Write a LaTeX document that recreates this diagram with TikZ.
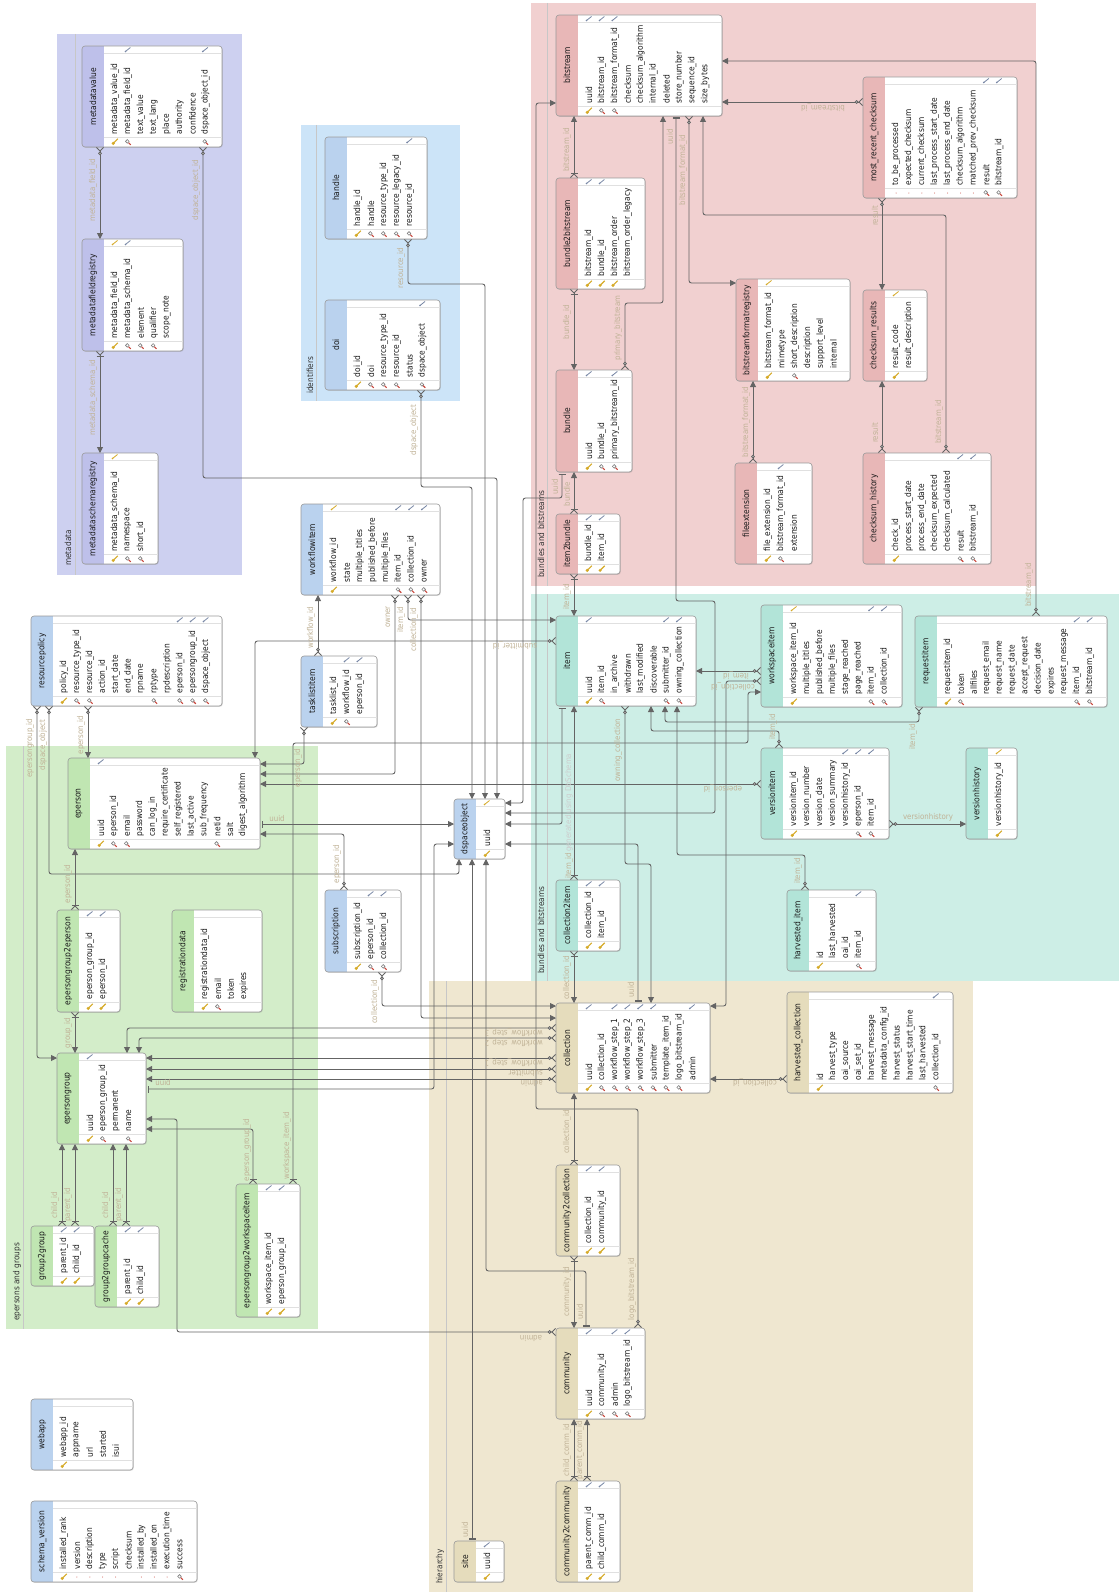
\documentclass[tikz,border=0pt]{standalone}
\usepackage{fontspec}
\setmainfont{DejaVu Sans}[FakeStretch=0.88]
\usetikzlibrary{arrows.meta,shadows}
\definecolor{mdbg}{RGB}{205,208,240}
\definecolor{idbg}{RGB}{204,228,248}
\definecolor{rdbg}{RGB}{241,208,208}
\definecolor{tlbg}{RGB}{205,238,230}
\definecolor{grbg}{RGB}{211,237,201}
\definecolor{tnbg}{RGB}{239,231,208}
\definecolor{mdh}{RGB}{190,192,234}
\definecolor{blh}{RGB}{186,210,238}
\definecolor{rdh}{RGB}{232,183,183}
\definecolor{tlh}{RGB}{178,228,216}
\definecolor{grh}{RGB}{192,230,178}
\definecolor{tnh}{RGB}{229,220,188}
\definecolor{lnc}{RGB}{100,100,100}
\definecolor{lblc}{RGB}{192,178,150}
\definecolor{keyc}{RGB}{214,170,40}
\definecolor{magc}{RGB}{200,70,60}
\definecolor{fkc}{RGB}{120,135,165}
\tikzset{
 tblbox/.style={rectangle, rounded corners=3pt, fill=white, inner sep=0pt, outer sep=0pt, drop shadow={shadow xshift=0.8pt, shadow yshift=-0.8pt, opacity=0.25, fill=black!60}},
 tbledge/.style={draw=black!40, line width=0.6pt},
 tblsep/.style={draw=black!12, line width=0.5pt},
 ttl/.style={font=\fontsize{8.6}{9}\selectfont, text=black!90, inner sep=0pt},
 coltext/.style={font=\fontsize{8.5}{9}\selectfont, text=black!90, inner sep=0pt},
 conn/.style={draw=lnc, line width=0.9pt, rounded corners=2.5pt},
 fko/.style={conn, {Straight Barb[reversed,length=3.5pt,width=7pt] Circle[length=3.6pt,fill=white]}-{Triangle[length=6pt,width=6pt]}},
 fkm/.style={conn, {Straight Barb[reversed,length=3.5pt,width=7pt] Bar[width=7pt]}-{Triangle[length=6pt,width=6pt]}},
 one/.style={conn, {Bar[width=7pt,sep=1.5pt]Bar[width=7pt]}-{Triangle[length=6pt,width=6pt]}},
 lbl/.style={font=\fontsize{8}{9}\selectfont, text=lblc, inner sep=0pt},
 lv/.style={lbl, rotate=90},
 lf/.style={lbl, rotate=180},
 lh/.style={lbl},
 wm/.style={font=\fontsize{8}{9}\selectfont, text=black!20, inner sep=0pt, rotate=90},
 glbl/.style={font=\fontsize{8.4}{9}\selectfont, text=black!80, inner sep=0pt, rotate=90, anchor=west},
 gline/.style={draw=black!22, line width=0.5pt},
}
\newcommand\ico[3]{%
  \if#1k\fill[keyc] (#2-1.8,#3+1.4) circle (1.7); \draw[keyc,line width=1.1pt] (#2-1,#3+0.6) -- (#2+2.8,#3-3.2);\fi
  \if#1q\draw[magc,line width=1.1pt] (#2+0.6,#3+0.6) -- (#2+2.8,#3+2.8); \draw[black!50,line width=0.6pt,fill=white] (#2-0.6,#3-0.6) circle (1.8);\fi
  \if#1d\fill[magc] (#2,#3) circle (0.5);\fi
  \if#1b\draw[fkc,line width=0.8pt] (#2-2.5,#3+2) -- (#2+2.5,#3-2); \fill[fkc] (#2-2.5,#3+2) circle (0.9);\fi
  \if#1g\draw[keyc,line width=0.8pt] (#2-2.5,#3+2) -- (#2+2.5,#3-2); \fill[keyc] (#2-2.5,#3+2) circle (0.9);\fi
}
\newcommand\dbtable[8]{%
  \node[tblbox, minimum width=#4pt, minimum height=#5pt, anchor=north west] (#1) at (#2,#3) {};
  \begin{scope}
    \clip[rounded corners=3pt] (#2,#3) rectangle ++(#4,#5);
    \fill[#6] (#2,#3) rectangle ++(22,#5);
  \end{scope}
  \draw[tbledge, rounded corners=3pt] (#2,#3) rectangle ++(#4,#5);
  \draw[tblsep] (#2+22,#3+7) -- (#2+#4,#3+7);
  \draw[tblsep] (#2+22,#3+#5-10) -- (#2+#4,#3+#5-10);
  \node[ttl, rotate=90] (#1t) at (#2+11,#3+#5/2) {#7};
  \foreach \colname/\icb/\ict [count=\i from 0] in {#8} {
    \pgfmathsetmacro\cx{#2+33+12.9*\i}
    \node[coltext, rotate=90, anchor=west] (#1c\i) at (\cx,#3+#5-12.5) {\colname};
    \ico{\icb}{\cx}{#3+#5-5}
    \ico{\ict}{\cx}{#3+3.5}
  }
}
\catcode`\_=12
\begin{document}
\begin{tikzpicture}[x=1pt,y=-1pt]
\useasboundingbox (0,0) rectangle (1119,1592);
\fill[white] (0,0) rectangle (1119,1592);
% groups
\fill[mdbg] (57,34) rectangle (242,575);
\fill[idbg] (301,125) rectangle (460,401);
\fill[rdbg] (531,3) rectangle (1036,586);
\fill[tlbg] (531,594) rectangle (1119,981);
\fill[grbg] (6,746) rectangle (318,1329);
\fill[tnbg] (429,981) rectangle (973,1592);
\draw[gline] (75,34) -- (75,575);
\draw[gline] (316,125) -- (316,401);
\draw[gline] (547,3) -- (547,586);
\draw[gline] (547,594) -- (547,981);
\draw[gline] (23,746) -- (23,1329);
\draw[gline] (446,981) -- (446,1592);
\node[glbl] (gmd) at (68,566) {metadata};
\node[glbl] (gid) at (310,394) {identifiers};
\node[glbl] (gbs) at (541,578) {bundles and bitstreams};
\node[glbl] (git) at (541,974) {bundles and bitstreams};
\node[glbl] (gep) at (17,1321) {epersons and groups};
\node[glbl] (ghi) at (440,1584) {hierarchy};
% tables
\dbtable{mdv}{82}{46}{140}{101}{mdh}{metadatavalue}{metadata_value_id/k/n, metadata_field_id/q/b, text_value/n/n, text_lang/n/n, place/n/n, authority/n/n, confidence/n/n, dspace_object_id/q/b}
\dbtable{mfr}{82}{239}{101}{112}{mdh}{metadatafieldregistry}{metadata_field_id/k/g, metadata_schema_id/q/b, element/q/n, qualifier/q/n, scope_note/n/n}
\dbtable{msr}{82}{453}{76}{111}{mdh}{metadataschemaregistry}{metadata_schema_id/k/g, namespace/q/n, short_id/q/n}
\dbtable{handle}{325}{137}{102}{102}{blh}{handle}{handle_id/k/n, handle/q/n, resource_type_id/q/n, resource_legacy_id/q/n, resource_id/q/b}
\dbtable{doi}{325}{300}{115}{90}{blh}{doi}{doi_id/k/n, doi/q/n, resource_type_id/q/n, resource_id/q/n, status/n/n, dspace_object/q/b}
\dbtable{bs}{556}{15}{166}{101}{rdh}{bitstream}{uuid/k/b, bitstream_id/q/b, bitstream_format_id/q/b, checksum/n/n, checksum_algorithm/n/n, internal_id/n/n, deleted/n/n, store_number/n/n, sequence_id/n/n, size_bytes/n/n}
\dbtable{b2b}{556}{178}{89}{111}{rdh}{bundle2bitstream}{bitstream_id/k/b, bundle_id/k/b, bitstream_order/k/n, bitstream_order_legacy/n/n}
\dbtable{bundle}{556}{370}{76}{102}{rdh}{bundle}{uuid/k/b, bundle_id/q/n, primary_bitstream_id/q/b}
\dbtable{i2b}{556}{514}{64}{60}{rdh}{item2bundle}{bundle_id/k/b, item_id/k/b}
\dbtable{bfr}{736}{279}{114}{102}{rdh}{bitstreamformatregistry}{bitstream_format_id/k/g, mimetype/n/n, short_description/q/n, description/n/n, support_level/n/n, internal/n/n}
\dbtable{csr}{863}{290}{64}{91}{rdh}{checksum_results}{result_code/k/g, result_description/n/n}
\dbtable{mrc}{863}{77}{154}{121}{rdh}{most_recent_checksum}{to_be_processed/d/n, expected_checksum/d/n, current_checksum/d/n, last_process_start_date/d/n, last_process_end_date/d/n, checksum_algorithm/d/n, matched_prev_checksum/d/n, result/q/b, bitstream_id/q/b}
\dbtable{fext}{735}{463}{77}{101}{rdh}{fileextension}{file_extension_id/k/n, bitstream_format_id/q/b, extension/n/n}
\dbtable{chist}{863}{453}{128}{111}{rdh}{checksum_history}{check_id/k/n, process_start_date/n/n, process_end_date/n/n, checksum_expected/n/n, checksum_calculated/n/n, result/q/b, bitstream_id/q/b}
\dbtable{wsi}{761}{605}{141}{102}{tlh}{workspaceitem}{workspace_item_id/k/g, multiple_titles/n/n, published_before/n/n, multiple_files/n/n, stage_reached/n/n, page_reached/n/n, item_id/q/b, collection_id/q/b}
\dbtable{reqi}{915}{616}{192}{91}{tlh}{requestitem}{requestitem_id/k/n, token/q/n, allfiles/n/n, request_email/n/n, request_name/n/n, request_date/n/n, accept_request/n/n, decision_date/n/n, expires/n/n, request_message/n/n, item_id/q/b, bitstream_id/q/b}
\dbtable{item}{556}{616}{140}{90}{tlh}{item}{uuid/k/b, item_id/q/n, in_archive/n/n, withdrawn/n/n, last_modified/n/n, discoverable/n/n, submitter_id/q/b, owning_collection/q/b}
\dbtable{vitem}{761}{748}{128}{91}{tlh}{versionitem}{versionitem_id/k/n, version_number/n/n, version_date/n/n, version_summary/n/n, versionhistory_id/n/b, eperson_id/q/b, item_id/q/b}
\dbtable{vhist}{966}{748}{51}{91}{tlh}{versionhistory}{versionhistory_id/k/g}
\dbtable{hitem}{787}{890}{89}{81}{tlh}{harvested_item}{id/k/n, last_harvested/n/n, oai_id/n/n, item_id/q/b}
\dbtable{hcoll}{787}{992}{166}{101}{tnh}{harvested_collection}{id/k/n, harvest_type/n/n, oai_source/n/n, oai_set_id/n/n, harvest_message/n/n, metadata_config_id/n/n, harvest_status/n/n, harvest_start_time/n/n, last_harvested/n/n, collection_id/q/b}
\dbtable{c2i}{556}{880}{64}{71}{tlh}{collection2item}{collection_id/k/b, item_id/k/b}
\dbtable{coll}{556}{1003}{154}{90}{tnh}{collection}{uuid/k/b, collection_id/q/n, workflow_step_1/q/b, workflow_step_2/q/b, workflow_step_3/q/b, submitter/q/b, template_item_id/q/n, logo_bitstream_id/q/n, admin/n/b}
\dbtable{c2c}{556}{1165}{64}{91}{tnh}{community2collection}{collection_id/k/b, community_id/k/b}
\dbtable{comm}{556}{1328}{89}{91}{tnh}{community}{uuid/k/b, community_id/q/n, admin/q/b, logo_bitstream_id/q/b}
\dbtable{c2m}{556}{1481}{64}{101}{tnh}{community2community}{parent_comm_id/k/b, child_comm_id/k/b}
\dbtable{site}{454}{1541}{50}{41}{tnh}{site}{uuid/k/b}
\dbtable{dso}{454}{799}{51}{60}{blh}{dspaceobject}{uuid/k/g}
\dbtable{wfi}{301}{504}{139}{91}{blh}{workflowitem}{workflow_id/k/g, state/n/n, multiple_titles/n/n, published_before/n/n, multiple_files/n/n, item_id/q/b, collection_id/q/b, owner/q/b}
\dbtable{tli}{301}{656}{76}{71}{blh}{tasklistitem}{tasklist_id/k/n, workflow_id/q/b, eperson_id/n/b}
\dbtable{rp}{31}{616}{191}{90}{blh}{resourcepolicy}{policy_id/k/n, resource_type_id/q/n, resource_id/q/n, action_id/n/n, start_date/n/n, end_date/n/n, rpname/n/n, rptype/q/n, rpdescription/n/n, eperson_id/q/b, epersongroup_id/q/b, dspace_object/q/b}
\dbtable{ep}{68}{758}{192}{91}{grh}{eperson}{uuid/k/b, eperson_id/q/n, email/q/n, password/n/n, can_log_in/n/n, require_certificate/n/n, self_registered/n/n, last_active/n/n, sub_frequency/n/n, netid/q/n, salt/n/n, digest_algorithm/n/n}
\dbtable{eg2e}{57}{910}{63}{102}{grh}{epersongroup2eperson}{eperson_group_id/k/b, eperson_id/k/b}
\dbtable{regd}{172}{910}{90}{102}{grh}{registrationdata}{registrationdata_id/k/n, email/q/n, token/n/n, expires/n/n}
\dbtable{subs}{325}{890}{76}{82}{blh}{subscription}{subscription_id/k/n, eperson_id/q/b, collection_id/q/b}
\dbtable{egrp}{57}{1053}{89}{91}{grh}{epersongroup}{uuid/k/b, eperson_group_id/q/n, permanent/n/n, name/q/n}
\dbtable{g2g}{31}{1226}{63}{60}{grh}{group2group}{parent_id/k/b, child_id/k/b}
\dbtable{g2gc}{95}{1226}{64}{81}{grh}{group2groupcache}{parent_id/k/b, child_id/k/b}
\dbtable{eg2w}{236}{1184}{64}{133}{grh}{epersongroup2workspaceitem}{workspace_item_id/k/b, eperson_group_id/k/b}
\dbtable{webapp}{31}{1399}{102}{71}{blh}{webapp}{webapp_id/k/n, appname/n/n, url/n/n, started/n/n, isui/n/n}
\dbtable{schv}{31}{1501}{166}{81}{blh}{schema_version}{installed_rank/k/n, version/d/n, description/d/n, type/d/n, script/d/n, checksum/n/n, installed_by/d/n, installed_on/d/n, execution_time/d/n, success/q/n}
% connectors: metadata / identifiers
\draw[fko] ([xshift=18pt]mdv.south west) -- ([xshift=18pt]mfr.north west);
\draw[fkm] ([xshift=18pt]mfr.south west) -- ([xshift=18pt]msr.north west);
\draw[fko] ([xshift=121pt]mdv.south west) |- (497,478) -- ([xshift=43pt]dso.north west);
\draw[fko] ([xshift=96pt]doi.south west) |- (472,487) -- ([xshift=18pt]dso.north west);
\draw[fko] ([xshift=83pt]handle.south west) |- (485,284) -- ([xshift=31pt]dso.north west);
% bitstreams
\draw[fkm] ([xshift=18pt]b2b.north west) -- ([xshift=18pt]bs.south west);
\draw[fkm] ([xshift=18pt]b2b.south west) -- ([xshift=18pt]bundle.north west);
\draw[fko] ([xshift=69pt]bundle.north west) |- (663,303) -- ([xshift=107pt]bs.south west);
\draw[fko] ([xshift=133pt]bs.south west) |- ([yshift=-4pt]bfr.north west);
\draw[one] ([xshift=120pt]bs.south west) -- (676,601) -- (715,601) |- ([yshift=-14pt]dso.north east);
\draw[fko] ([yshift=-25pt]mrc.north west) -- ([yshift=-87pt]bs.north east);
\draw[fko] ([xshift=19pt]mrc.south west) -- ([xshift=19pt]csr.north west);
\draw[fko] ([xshift=19pt]chist.north west) -- ([xshift=19pt]csr.south west);
\draw[fko] ([xshift=83pt]chist.north west) |- (703,215) -- ([xshift=147pt]bs.south west);
\draw[fko] ([xshift=18pt]fext.north west) -- ([xshift=17pt]bfr.south west);
\draw[fko] ([xshift=121pt]reqi.north west) |- ([yshift=-46pt]bs.north east);
\draw[fkm] ([xshift=18pt]i2b.north west) -- ([xshift=18pt]bundle.south west);
\draw[fkm] ([xshift=18pt]i2b.south west) -- ([xshift=18pt]item.north west);
\draw[one] ([xshift=6pt]bundle.south west) |- (523,498) |- ([yshift=-4pt]dso.north east);
% items
\draw[one] ([xshift=6pt]item.south west) |- ([yshift=-25pt]dso.north east);
\draw[one] ([xshift=82pt]coll.north west) |- ([yshift=-45pt]dso.north east);
\draw[fko] ([xshift=69pt]item.south west) |- (651,864) -- ([xshift=95pt]coll.north west);
\draw[fko] ([yshift=-66pt]wsi.north west) -- ([yshift=-55pt]item.north east);
\draw[fko] ([yshift=-76pt]wsi.north west) -- (726,681) |- ([yshift=-3pt]coll.north east);
\draw[fko] ([xshift=18pt]vitem.north west) |- (651,731) -- ([xshift=95pt]item.south west);
\draw[fko] ([xshift=4pt]reqi.south west) |- (665,722) -- ([xshift=109pt]item.south west);
\draw[fko] ([xshift=18pt]hitem.north west) |- (677,855) -- ([xshift=121pt]item.south west);
\draw[fko] ([yshift=-76pt]vitem.north east) -- ([yshift=-76pt]vhist.north west);
\draw[fko] ([yshift=-36pt]vitem.north west) -- ([yshift=-26pt]ep.north east);
\draw[fko] ([yshift=-87pt]hcoll.north west) -- ([yshift=-76pt]coll.north east);
\draw[fkm] ([xshift=18pt]c2i.north west) -- ([xshift=18pt]item.south west);
\draw[fkm] ([xshift=18pt]c2i.south west) -- ([xshift=18pt]coll.north west);
% hierarchy
\draw[fkm] ([xshift=18pt]c2c.north west) -- ([xshift=18pt]coll.south west);
\draw[fkm] ([xshift=18pt]c2c.south west) -- ([xshift=18pt]comm.north west);
\draw[fkm] ([xshift=18pt]c2m.north west) -- ([xshift=18pt]comm.south west);
\draw[fkm] ([xshift=31pt]c2m.north west) -- ([xshift=31pt]comm.south west);
\draw[one] ([xshift=30pt]comm.north west) |- (486,1271) -- ([xshift=32pt]dso.south west);
\draw[fko] ([xshift=82pt]comm.north west) |- (536,1109) |- ([yshift=-88pt]bs.north west);
\draw[fko] ([yshift=-4pt]comm.north west) -- (177,1332) |- ([yshift=-66pt]egrp.north east);
\draw[one] ([xshift=18pt]site.north west) -- ([xshift=18pt]dso.south west);
% workflow, epersons
\draw[fko] ([xshift=94pt]wfi.south west) |- ([yshift=-16pt]ep.north east);
\draw[fko] ([xshift=107pt]wfi.south west) |- ([yshift=-4pt]item.north west);
\draw[fko] ([xshift=120pt]wfi.south west) |- ([yshift=-15pt]coll.north west);
\draw[fko] ([xshift=17pt]tli.north west) -- ([xshift=17pt]wfi.south west);
\draw[fko] ([xshift=3pt]tli.south west) |- ([yshift=-6pt]ep.north east);
\draw[fko] ([yshift=-25pt]item.north west) -| ([xshift=187pt]ep.north west);
\draw[fko] ([xshift=57pt]rp.south west) -- ([xshift=20pt]ep.north west);
\draw[fko] ([xshift=6pt]rp.south west) |- ([yshift=-5pt]egrp.north west);
\draw[fko] ([xshift=18pt]rp.south west) |- (459,874) -- ([xshift=5pt]dso.south west);
\draw[one] ([yshift=-66pt]ep.north east) -- ([yshift=-25pt]dso.north west);
\draw[fko] ([xshift=19pt]subs.north west) |- ([yshift=-76pt]ep.north east);
\draw[fko] ([xshift=57pt]subs.south west) |- ([yshift=-3pt]coll.north west);
\draw[fkm] ([xshift=18pt]eg2e.north west) -- ([xshift=7pt]ep.south west);
\draw[fkm] ([xshift=18pt]eg2e.south west) -- ([xshift=18pt]egrp.north west);
\draw[one] ([yshift=-36pt]egrp.north east) -| (434,844) -- ([yshift=-45pt]dso.north west);
\draw[fko] ([yshift=-25pt]coll.north west) -| ([xshift=70pt]egrp.north west);
\draw[fko] ([yshift=-35pt]coll.north west) -| ([xshift=82pt]egrp.north west);
\draw[fko] ([yshift=-55pt]coll.north west) -- ([yshift=-5pt]egrp.north east);
\draw[fko] ([yshift=-66pt]coll.north west) -- ([yshift=-16pt]egrp.north east);
\draw[fko] ([yshift=-76pt]coll.north west) -- ([yshift=-26pt]egrp.north east);
\draw[fkm] ([xshift=17pt]eg2w.north west) |- ([yshift=-76pt]egrp.north east);
\draw[fkm] ([xshift=57pt]eg2w.north west) |- (748,743) |- ([yshift=-87pt]wsi.north west);
\draw[fkm] ([xshift=31pt]g2g.north west) -- ([xshift=5pt]egrp.south west);
\draw[fkm] ([xshift=44pt]g2g.north west) -- ([xshift=18pt]egrp.south west);
\draw[fkm] ([xshift=18pt]g2gc.north west) -- ([xshift=56pt]egrp.south west);
\draw[fkm] ([xshift=31pt]g2gc.north west) -- ([xshift=69pt]egrp.south west);
% connector labels
\node[lv] (l1) at (93,190) {metadata_field_id};
\node[lv] (l2) at (93,398) {metadata_schema_id};
\node[lv] (l3) at (196,190) {dspace_object_id};
\node[lv] (l4) at (414,430) {dspace_object};
\node[lv] (l5) at (401,268) {resource_id};
\node[lv] (l6) at (567,150) {bitstream_id};
\node[lv] (l7) at (567,322) {bundle_id};
\node[lv] (l8) at (618,328) {primary_bitstream};
\node[lv] (l9) at (683,170) {bitstream_format_id};
\node[lv] (l10) at (670,137) {uuid};
\node[lf] (l11) at (823,108) {bitstream_id};
\node[lv] (l12) at (875,216) {result};
\node[lv] (l13) at (875,433) {result};
\node[lv] (l14) at (939,422) {bitstream_id};
\node[lv] (l15) at (746,422) {bitstream_format_id};
\node[lv] (l16) at (1029,585) {bitstream_id};
\node[lv] (l17) at (567,494) {bundle};
\node[lv] (l18) at (555,487) {uuid};
\node[lv] (l19) at (567,597) {item_id};
\node[lf] (l20) at (515,646) {submitter_id};
\node[lv] (l21) at (388,617) {owner};
\node[lv] (l22) at (401,620) {item_id};
\node[lv] (l23) at (414,630) {collection_id};
\node[lv] (l24) at (311,628) {workflow_id};
\node[lv] (l25) at (81,735) {eperson_id};
\node[lv] (l26) at (30,748) {epersongroup_id};
\node[lv] (l27) at (43,745) {dspace_object};
\node[lv] (l28) at (298,768) {eperson_id};
\node[lf] (l29) at (723,789) {eperson_id};
\node[lh] (l30) at (277,819) {uuid};
\node[lv] (l31) at (68,884) {eperson_id};
\node[lv] (l32) at (337,864) {eperson_id};
\node[lv] (l33) at (68,1033) {group_id};
\node[lh] (l34) at (163,1083) {uuid};
\node[lv] (l35) at (247,1150) {eperson_group_id};
\node[lv] (l36) at (287,1146) {workspace_item_id};
\node[lv] (l37) at (55,1205) {child_id};
\node[lv] (l38) at (68,1205) {parent_id};
\node[lv] (l39) at (106,1205) {child_id};
\node[lv] (l40) at (119,1205) {parent_id};
\node[lv] (l41) at (375,1002) {collection_id};
\node[lf, anchor=west] (l42) at (543,1033) {workflow_step_3};
\node[lf, anchor=west] (l43) at (543,1043) {workflow_step_2};
\node[lf, anchor=west] (l44) at (543,1063) {workflow_step_1};
\node[lf, anchor=west] (l45) at (543,1073) {submitter};
\node[lf, anchor=west] (l46) at (543,1083) {admin};
\node[lv] (l47) at (567,978) {collection_id};
\node[lv] (l48) at (631,990) {uuid};
\node[lv] (l49) at (618,750) {owning_collection};
\node[lv, anchor=west] (l50) at (569,879) {item_id};
\node[wm, anchor=west] (l51) at (569,852) {generated using DbSchema};
\node[lv] (l52) at (567,1132) {collection_id};
\node[lv] (l53) at (567,1292) {community_id};
\node[lv] (l54) at (580,1312) {uuid};
\node[lv] (l55) at (632,1289) {logo_bitstream_id};
\node[lf] (l56) at (531,1338) {admin};
\node[lv] (l57) at (567,1450) {child_comm_id};
\node[lv] (l58) at (580,1450) {parent_comm_id};
\node[lv] (l59) at (465,1530) {uuid};
\node[lf] (l60) at (736,676) {item_id};
\node[lf] (l61) at (733,687) {collection_id};
\node[lv] (l62) at (773,727) {item_id};
\node[lv] (l63) at (913,737) {item_id};
\node[lh] (l64) at (928,817) {versionhistory};
\node[lv] (l65) at (798,871) {item_id};
\node[lf] (l66) at (755,1083) {collection_id};
\end{tikzpicture}
\end{document}
